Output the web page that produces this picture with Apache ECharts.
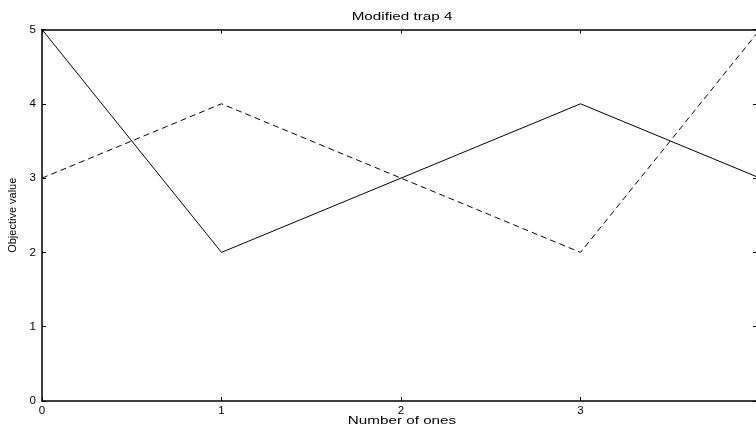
<!DOCTYPE html>
<html><head><meta charset="utf-8">
<script src="https://cdn.jsdelivr.net/npm/echarts@6/dist/echarts.min.js"></script>
<style>html,body{margin:0;padding:0;background:#fff}#c{width:756px;height:427px}</style>
</head><body><div id="c"></div>
<script>
const categories = [0, 1, 2, 3, 4];
const solidValues = [5, 2, 3, 4, 3];
const dashedValues = [3, 4, 3, 2, 5];
const yTicks = [0, 1, 2, 3, 4, 5];
const titleText = 'Modified trap 4';
const xName = 'Number of ones';
const yName = 'Objective value';

const chart = echarts.init(document.getElementById('c'), null, {renderer: 'canvas'});
const fontFam = 'Liberation Sans, Arial, Helvetica, sans-serif';
const axisBase = {
  axisLine: {show: true, onZero: false, lineStyle: {color: '#000', width: 1.5}},
  axisTick: {show: true, inside: true, length: 4, lineStyle: {color: '#000', width: 1}},
  splitLine: {show: false}
};
chart.setOption({
  animation: false,
  backgroundColor: '#fff',
  graphic: [
    {type: 'text', x: 402, y: 17.5, scaleX: 1.45, silent: true,
      style: {text: titleText, font: '10.5px ' + fontFam, fill: '#000', align: 'center', verticalAlign: 'middle'}},
    {type: 'text', x: 402, y: 421.5, scaleX: 1.45, silent: true,
      style: {text: xName, font: '10.5px ' + fontFam, fill: '#000', align: 'center', verticalAlign: 'middle'}}
  ],
  grid: {left: 42, right: -4, top: 29.5, bottom: 26, containLabel: false, outerBoundsMode: 'none'},
  xAxis: [
    Object.assign({}, axisBase, {type: 'value', min: 0, max: 4, interval: 1, position: 'bottom',
      axisLabel: {show: true, color: '#000', fontFamily: fontFam, fontSize: 11.5, margin: 4,
        formatter: v => String(v)}}),
    Object.assign({}, axisBase, {type: 'value', min: 0, max: 4, interval: 1, position: 'top',
      axisLabel: {show: false}})
  ],
  yAxis: [
    Object.assign({}, axisBase, {type: 'value', min: 0, max: 5, interval: 1, position: 'left',
      name: yName, nameLocation: 'middle', nameGap: 22, nameRotate: 90,
      nameTextStyle: {fontFamily: fontFam, fontSize: 11, color: '#000'},
      axisLabel: {show: true, color: '#000', fontFamily: fontFam, fontSize: 11.5, margin: 6,
        formatter: v => yTicks.includes(v) ? String(v) : ''}}),
    Object.assign({}, axisBase, {type: 'value', min: 0, max: 5, interval: 1, position: 'right',
      axisTick: {show: true, inside: true, length: 7, lineStyle: {color: '#000', width: 1}},
      axisLabel: {show: false}})
  ],
  series: [
    {type: 'line', xAxisIndex: 0, yAxisIndex: 0, data: categories.map((c, i) => [c, solidValues[i]]),
      symbol: 'none', lineStyle: {color: '#000', width: 1, type: 'solid'}},
    {type: 'line', xAxisIndex: 0, yAxisIndex: 0, data: categories.map((c, i) => [c, dashedValues[i]]),
      symbol: 'none', lineStyle: {color: '#000', width: 1, type: [6, 4]}}
  ]
});
</script></body></html>
